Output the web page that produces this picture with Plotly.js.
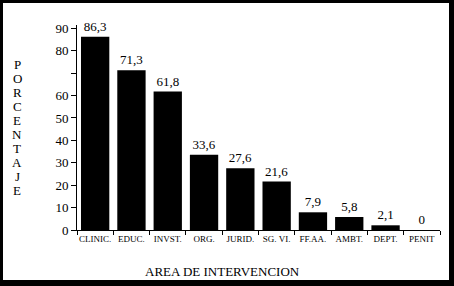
<!DOCTYPE html>
<html>
<head>
<meta charset="utf-8">
<script src="https://cdn.plot.ly/plotly-3.0.1.min.js"></script>
<style>
html,body{margin:0;padding:0;background:#fff;}
#wrap{position:relative;width:454px;height:286px;}
#chart{width:454px;height:286px;}
#frame{position:absolute;left:0;top:0;width:454px;height:286px;box-sizing:border-box;
border-style:solid;border-color:#000;border-width:3px 5px 6px 3px;pointer-events:none;}
</style>
</head>
<body>
<div id="wrap"><div id="chart"></div><div id="frame"></div></div>
<script>
var categories = ["CLINIC.", "EDUC.", "INVST.", "ORG.", "JURID.", "SG. VI.", "FF.AA.", "AMBT.", "DEPT.", "PENIT"];
var values = [86.3, 71.3, 61.8, 33.6, 27.6, 21.6, 7.9, 5.8, 2.1, 0];
var yTickVals = [0, 10, 20, 30, 40, 50, 60, 70, 80, 90];
var yTickText = ["0", "10", "20", "30", "40", "50", "60", "", "80", "90"];
var yTitle = "PORCENTAJE";
var xTitle = "AREA DE INTERVENCION";

var serif = "'Liberation Serif', 'Times New Roman', serif";
var labels = values.map(function(v){ return String(v).replace(".", ","); });

var trace = {
  type: "bar",
  x: categories,
  y: values,
  marker: {color: "#000", line: {width: 0}},
  text: labels,
  textposition: "outside",
  cliponaxis: false,
  textfont: {family: serif, size: 13, color: "#000"},
  hoverinfo: "none"
};

var annotations = [{
  xref: "paper", yref: "paper", x: 0.4, y: -0.2, yanchor: "middle",
  text: xTitle, showarrow: false,
  font: {family: serif, size: 13, color: "#000"}
}];
var letters = yTitle.split("");
var startY = 0.805, stepY = 13.9 / 205;
letters.forEach(function(ch, i){
  annotations.push({
    xref: "paper", yref: "paper", x: -0.165, y: startY - i * stepY,
    xanchor: "center", yanchor: "middle",
    text: ch, showarrow: false,
    font: {family: serif, size: 13, color: "#000"}
  });
});

var layout = {
  width: 454, height: 286,
  margin: {l: 77, r: 14, t: 25, b: 56, pad: 0},
  paper_bgcolor: "#fff", plot_bgcolor: "#fff",
  bargap: 0.22,
  showlegend: false,
  xaxis: {
    showline: true, linecolor: "#000", linewidth: 1,
    ticks: "outside", tickson: "boundaries", ticklen: 4, tickcolor: "#000",
    tickangle: 0,
    tickfont: {family: serif, size: 9, color: "#000"},
    showgrid: false, zeroline: false, fixedrange: true
  },
  yaxis: {
    range: [0, 91.5],
    showline: true, linecolor: "#000", linewidth: 1,
    ticks: "outside", ticklen: 5, tickcolor: "#000",
    tickvals: yTickVals, ticktext: yTickText,
    tickfont: {family: serif, size: 13, color: "#000"},
    showgrid: false, zeroline: false, fixedrange: true
  },
  annotations: annotations
};

Plotly.newPlot("chart", [trace], layout, {displayModeBar: false, staticPlot: true});
</script>
</body>
</html>
